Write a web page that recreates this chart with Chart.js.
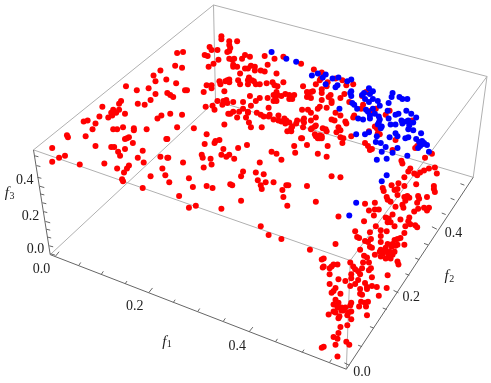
<!DOCTYPE html>
<html>
<head>
<style>
  body { margin: 0; background: #fff; }
</style>
</head>

<body>

<canvas id="myChart" width="491" height="383"></canvas>

<script src="https://cdn.jsdelivr.net/npm/chart.js"></script>

<script>
const redPoints = [
  [159,68],[152,73],[154,79],[165,77],[124,84],[135,88],[147,86],[154,92],[166,91],[149,98],[119,99],[117,102],[136,102],[143,103],
  [100,105],[111,108],[117,108],[109,111],[114,111],[123,112],[110,114],[106,116],[97,115],[160,114],[156,117],[85,119],[81,120],[93,122],
  [90,128],[121,126],[111,128],[115,128],[132,127],[132,129],[145,128],
  [64,134],[65,136],[83,135],[127,136],[125,137],[123,138],[131,142],[165,138],[49,147],[93,145],[109,146],[112,146],[116,151],[123,148],
  [141,150],[118,155],[62,155],[56,157],[49,161],[77,164],[102,163],[136,157],[142,162],[159,156],[166,157],[115,168],[127,165],[125,168],
  [122,172],[161,168],[164,175],[149,176],[120,179],[121,181],[141,188],
  [221,33],[221,36],[229,38],[237,38],[229,42],[230,45],[209,44],[211,47],[217,47],[229,48],[227,49],[176,50],[182,49],[204,52],[207,53],
  [245,52],[250,54],[265,53],[275,56],[242,56],[218,57],[229,56],[234,56],[232,57],[213,61],[208,64],[233,62],[174,63],[181,65],[268,62],
  [237,64],[233,64],[251,63],[245,66],[248,66],[255,64],[255,68],[261,68],[265,69],[277,71],[240,71],[249,75],[248,78],[229,77],[227,78],
  [225,79],[219,79],[238,78],[252,78],[254,79],[220,82],[229,80],[240,82],[248,82],[256,82],[260,82],[267,81],[273,80],[275,83],[278,84],
  [284,80],[175,81],[206,83],[211,83],[211,86],[203,90],[184,88],[186,88],[169,93],[172,95],[224,89],[250,94],[304,84],[308,90],[309,93],
  [314,89],[312,90],[308,95],[312,96],[277,90],[274,93],[278,93],[286,92],[290,93],[295,93],[291,95],[293,97],[282,94],[276,96],[268,96],
  [260,96],[256,99],[274,99],[277,99],[290,97],[226,98],[223,99],[217,99],[227,101],[233,100],[243,100],[222,103],[251,104],[205,105],
  [212,104],[214,108],[233,110],[228,112],[230,112],[239,110],[243,107],[248,110],[248,111],[169,112],[181,113],[269,106],[257,111],[261,113],
  [264,115],[269,115],[270,113],[279,114],[237,116],[246,116],[274,118],[279,119],[303,108],[309,108],[312,111],[319,107],[317,116],[305,117],
  [304,119],[298,119],[285,117],[287,119],[282,120],[286,122],[290,121],[297,122],[312,119],[305,121],[249,121],[224,123],[251,126],[176,126],
  [193,127],[293,125],[292,127],[304,126],[313,127],[316,125],[317,124],[324,127],[315,67],[284,54],[302,61],[322,76],[317,82],[323,87],
  [323,70],[321,78],[337,76],[344,78],[329,80],[355,82],[328,84],[348,83],[368,90],[346,92],[323,91],[332,93],[330,95],[342,96],[323,98],
  [333,99],[333,101],[351,100],[364,94],[321,105],[328,106],[365,103],[378,107],[373,109],[392,109],[337,111],[342,114],[363,107],[356,114],
  [355,116],[333,118],[336,119],[347,120],[348,122],[388,113],[377,125],[379,127],[340,126],[327,128],[342,129],[415,119],[371,130],
  [328,130],[338,131],[323,135],[321,137],[342,136],[345,137],[344,142],[329,145],[328,156],[353,135],[367,142],[370,145],[372,149],[374,148],
  [380,132],[382,133],[398,139],[395,149],[404,160],[405,163],[420,145],[418,147],[435,153],[428,157],[438,167],[432,168],[427,170],[423,172],
  [440,173],[413,168],[411,171],[417,173],[420,175],[407,177],[333,176],[342,177],[385,188],[394,185],[401,183],[407,186],[419,184],[437,186],
  [437,189],[438,192],[400,189],[397,190],[400,195],[386,191],[389,197],[390,200],[393,202],[407,197],[410,196],[412,198],[408,201],[421,196],
  [422,199],[430,197],[405,205],[406,208],[367,204],[377,203],[377,210],[371,211],[381,210],[398,207],[376,216],[340,217],[420,203],[421,209],
  [427,208],[432,208],[430,211],[417,212],[395,215],[388,218],[391,219],[393,223],[390,223],[403,220],[412,218],[411,222],[366,222],[397,227],
  [408,227],[413,225],[420,228],[418,226],[378,227],[357,232],[383,231],[389,232],[372,233],[407,234],[359,238],[361,239],[383,237],[403,239],
  [400,240],[397,241],[367,242],[373,240],[370,243],[383,243],[390,245],[395,245],[400,246],[407,246],[337,245],[372,248],[374,249],[388,249],
  [394,248],[398,247],[362,251],[383,251],[387,253],[392,253],[397,253],[382,253],
  [206,133],[166,138],[204,143],[219,139],[215,140],[214,142],[247,144],[238,147],[223,148],[221,154],[226,156],[229,154],[234,158],[201,154],
  [202,157],[210,158],[167,157],[182,162],[211,164],[203,167],[188,178],[168,182],[192,187],[206,186],[212,188],[230,184],[232,185],[243,171],
  [241,176],[256,172],[264,174],[258,180],[266,182],[261,185],[262,189],[274,182],[260,162],[272,151],[277,153],[282,159],[295,145],[296,152],
  [308,144],[302,137],[303,137],[319,153],[287,185],[289,185],[308,186],[283,190],[284,197],[288,206],[317,202],[241,201],[178,196],[188,208],
  [195,206],[221,209],[261,227],[269,236],[282,240],[311,251],[262,126],[288,130],[292,130],[312,128],[316,133],[317,135],[321,134],[319,137],
  [323,137],[323,261],[324,269],
  [377,256],[385,255],[391,256],[395,256],[366,257],[369,259],[383,258],[388,260],[393,260],[400,263],[401,266],[325,260],[352,264],[365,264],
  [371,264],[335,266],[339,266],[333,268],[331,270],[325,268],[355,268],[357,271],[360,273],[364,270],[373,270],[371,272],[362,276],[353,276],
  [331,276],[390,277],[374,279],[340,281],[353,280],[360,282],[347,283],[367,285],[357,286],[352,288],[331,286],[374,288],[379,289],[369,289],
  [369,291],[389,290],[337,290],[335,293],[333,295],[342,296],[362,291],[362,296],[364,297],[381,298],[363,304],[370,304],[367,305],[337,302],
  [340,305],[353,305],[335,307],[352,308],[361,309],[368,309],[339,310],[343,310],[347,310],[343,313],[345,313],[335,314],[337,315],[350,315],
  [353,314],[330,317],[341,319],[340,321],[349,318],[369,318],[353,322],[349,328],[342,330],[340,336],[335,340],[339,342],[337,348],[348,345],
  [351,348],[325,350],[323,351],[339,360]
];

const bluePoints = [
  [272,49],[287,56],[297,59],[313,73],[319,71],[324,75],[327,72],[334,76],[340,75],[353,77],[349,79],[327,82],[339,83],[337,85],[371,86],
  [375,89],[366,91],[364,93],[353,89],[352,91],[353,94],[372,92],[395,91],[394,95],[402,95],[405,97],[410,97],[367,97],[375,97],[371,100],
  [380,99],[382,104],[391,101],[354,101],[356,103],[359,107],[341,107],[368,108],[370,110],[375,107],[377,112],[390,109],[372,114],[372,117],
  [360,117],[365,118],[381,115],[382,118],[391,117],[398,113],[401,112],[409,109],[414,112],[419,116],[404,119],[409,120],[411,119],[416,121],
  [405,122],[393,123],[398,123],[381,121],[384,125],[412,124],[416,129],[411,128],[380,123],
  [358,133],[367,133],[371,131],[379,135],[383,127],[378,141],[383,142],[392,136],[398,132],[400,135],[408,137],[411,136],[424,132],[419,138],
  [422,141],[425,140],[427,142],[430,144],[423,145],[421,147],[426,143],[388,146],[400,147],[384,151],[395,152],[410,155],[379,159],[389,158],
  [432,151],[389,175],[384,181],[358,203],[351,216]
];

// box edges, [x1, y1, x2, y2]
const boxEdges = [
  [215,99,47,256],[215,99,477,177],[213,1,30,149],[213,1,491,74],[30,149,352,262],[352,262,491,74],
  [213,1,215,99],[352,262,348,373],[491,74,477,177]
];
const axisEdges = [
  [30,149,47,256],[47,256,348,373],[348,373,477,177]
];

// tick positions along the three axes, every 0.05
const f1Ticks = [[52,258],[76,267],[99,276],[123,286],[147,295],[172,305],[197,314],[223,324],[249,335],[276,345],[303,356],[331,366]];
const f2Ticks = [[351,369],[364,350],[376,331],[389,312],[401,295],[412,277],[422,261],[431,246],[440,230],[449,215],[458,200],[468,185]];
const f3Ticks = [[47,255],[46,247],[44,238],[43,230],[42,222],[40,212],[39,203],[37,194],[36,186],[34,177],[33,165],[31,155]];

const tickLabels = ['0.0', '0.2', '0.4'];
const f1LabelPos = [[38,270],[133,308],[237,349]];
const f2LabelPos = [[364,375],[414,299],[457,233]];
const f3LabelPos = [[32,250],[27,216],[21,179]];
const axisTitles = ['1', '2', '3'];
const axisTitlePos = [[165,345],[452,278],[5,193]];

function toXY(p) {
  return { x: p[0], y: p[1] };
}

function segments(list) {
  const out = [];
  list.forEach(function(s) {
    out.push({ x: s[0], y: s[1] }, { x: s[2], y: s[3] }, { x: null, y: null });
  });
  return out;
}

// every 4th tick is a long one (0.0, 0.2, 0.4)
function tickSegments(ticks, minor, major) {
  return segments(ticks.map(function(t, i) {
    const d = i % 4 === 0 ? major : minor;
    return [t[0], t[1], t[0] + d[0], t[1] + d[1]];
  }));
}

function lineSet(data, color, order) {
  return {
    data: data,
    showLine: true,
    spanGaps: false,
    borderColor: color,
    borderWidth: 1,
    pointRadius: 0,
    order: order,
    clip: false
  };
}

function dotSet(points, color, order) {
  return {
    data: points.map(toXY),
    backgroundColor: color,
    borderColor: color,
    borderWidth: 0,
    pointRadius: 3,
    order: order,
    clip: false
  };
}

// text around the box: tick labels and the f1 f2 f3 titles
const boxText = {
  id: 'boxText',
  afterDraw(chart) {
    const ctx = chart.ctx;
    const x = chart.scales.x;
    const y = chart.scales.y;
    ctx.save();
    ctx.fillStyle = '#222';
    ctx.textBaseline = 'middle';
    ctx.textAlign = 'center';
    ctx.font = '14px "Liberation Serif"';
    [f1LabelPos, f2LabelPos, f3LabelPos].forEach(function(pos) {
      pos.forEach(function(p, i) {
        ctx.fillText(tickLabels[i], x.getPixelForValue(p[0]), y.getPixelForValue(p[1]) + 1);
      });
    });
    axisTitlePos.forEach(function(p, i) {
      const px = x.getPixelForValue(p[0]);
      const py = y.getPixelForValue(p[1]);
      ctx.font = 'italic 15px "Liberation Serif"';
      ctx.fillText('f', px - 2, py);
      ctx.font = '10px "Liberation Serif"';
      ctx.fillText(axisTitles[i], px + 3, py + 3);
    });
    ctx.restore();
  }
};

const myChart = new Chart(document.getElementById('myChart'), {
  type: 'scatter',
  data: {
    datasets: [
      lineSet(segments(boxEdges), '#b0b0b0', 5),
      lineSet(segments(axisEdges), '#666666', 4),
      lineSet(tickSegments(f1Ticks, [2, -3], [4, -5]), '#666666', 4),
      lineSet(tickSegments(f2Ticks, [-4, -1.5], [-5, -2.5]), '#666666', 4),
      lineSet(tickSegments(f3Ticks, [4, 1], [5, 1.5]), '#666666', 4),
      dotSet(redPoints, '#ff0000', 2),
      dotSet(bluePoints, '#0000ff', 1)
    ]
  },
  options: {
    responsive: false,
    animation: false,
    events: [],
    layout: { padding: 0 },
    plugins: { legend: { display: false }, tooltip: { enabled: false } },
    scales: {
      x: { type: 'linear', display: false, min: 0, max: 491 },
      y: { type: 'linear', display: false, min: 0, max: 383, reverse: true }
    }
  },
  plugins: [boxText]
});
</script>

</body>
</html>
